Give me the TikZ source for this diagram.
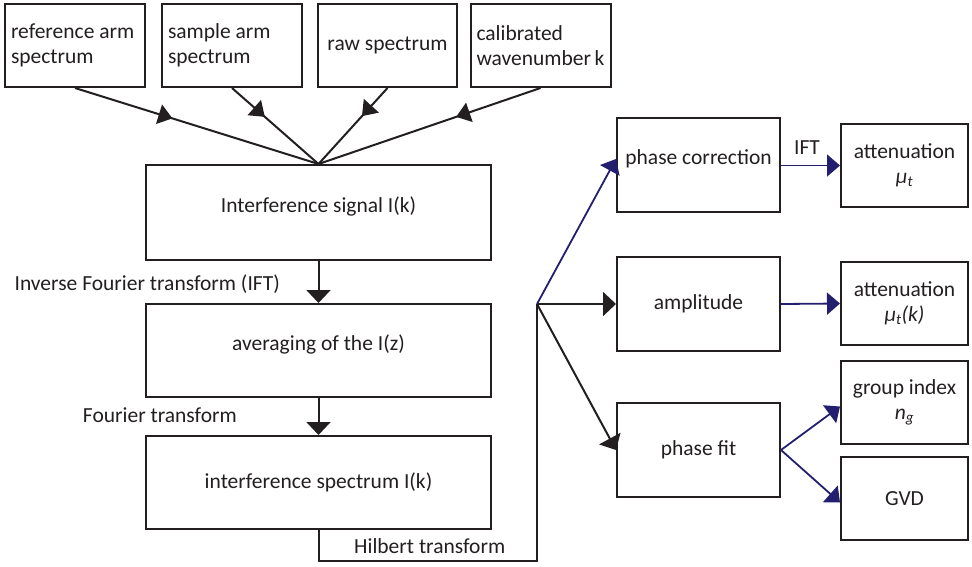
\documentclass[tikz,border=0pt]{standalone}
\usepackage{fontspec}
\setmainfont{Carlito}
\usetikzlibrary{arrows.meta,decorations.markings,calc}
\definecolor{navy}{RGB}{35,31,110}
\definecolor{ink}{RGB}{35,31,32}
\begin{document}
\begin{tikzpicture}[x=1pt,y=-1pt,
  font=\fontsize{21.5}{25}\selectfont,
  box/.style={draw=ink, line width=2pt, inner sep=0pt, align=center, text=ink},
  tbox/.style={box, text width=128pt, inner xsep=6pt, align=flush left},
  upshift/.style={text depth=#1},
  arr/.style={line width=2pt, color=ink, -{Triangle[length=13pt,width=24pt]}},
  barr/.style={line width=1.8pt, color=navy, -{Triangle[length=13pt,width=22pt]}},
  midarrow/.style={line width=2pt, color=ink, postaction={decorate},
    decoration={markings, mark=at position #1 with {\arrow{Triangle[length=14pt,width=20pt]}}}},
  lbl/.style={text=ink, inner sep=0pt}]
\useasboundingbox (0,0) rectangle (972,566);
% top boxes
\node[tbox, minimum width=140pt, minimum height=83pt] (b1) at (75,45.5) {reference arm\\spectrum};
\node[tbox, minimum width=140pt, minimum height=83pt] (b2) at (232,45.5) {sample arm\\spectrum};
\node[box, minimum width=139pt, minimum height=83pt] (b3) at (387.5,45.5) {raw spectrum};
\node[tbox, minimum width=139pt, minimum height=83pt] (b4) at (540.5,45.5) {calibrated\\wavenumber~k};
% main column
\node[box, upshift=15pt, minimum width=345pt, minimum height=95pt] (isg) at (318.5,212.5) {Interference signal I(k)};
\node[box, upshift=15pt, minimum width=345pt, minimum height=93pt] (avg) at (318.5,350.5) {averaging of the I(z)};
\node[box, minimum width=345pt, minimum height=93pt] (iss) at (318.5,482.5) {interference spectrum I(k)};
% right column
\node[box, upshift=16pt, minimum width=163pt, minimum height=94pt] (pc) at (698.5,165) {phase correction};
\node[box, minimum width=163pt, minimum height=94pt] (amp) at (698.5,304) {amplitude};
\node[box, minimum width=163pt, minimum height=94pt] (pf) at (698.5,450) {phase fit};
\node[box, minimum width=127pt, minimum height=83pt] (att1) at (904.5,165.5) {attenuation\\\textit{μ}\textsubscript{\textit{t}}};
\node[box, minimum width=127pt, minimum height=83pt] (att2) at (904.5,303.5) {attenuation\\\textit{μ}\textsubscript{\textit{t}}\textit{(k)}};
\node[box, minimum width=127pt, minimum height=83pt] (gi) at (904.5,402.5) {group index\\\textit{n}\textsubscript{\textit{g}}};
\node[box, minimum width=127pt, minimum height=83pt] (gvd) at (904.5,498.5) {GVD};
% labels
\node[lbl, anchor=base east] (lift) at (280,290) {Inverse Fourier transform (IFT)};
\node[lbl, anchor=base east] (lft) at (237,422) {Fourier transform};
\node[lbl, anchor=base west] (lht) at (354,553) {Hilbert transform};
\node[lbl, anchor=base] (lift2) at (807,154) {IFT};
% top converging arrows
\draw[midarrow=0.40] (b1.south) -- (isg.north);
\draw[midarrow=0.38] (b2.south) -- (isg.north);
\draw[midarrow=0.37] (b3.south) -- (isg.north);
\draw[midarrow=0.38] (b4.south) -- (isg.north);
% column arrows
\draw[arr] (isg.south) -- (avg.north);
\draw[arr] (avg.south) -- (iss.north);
% Hilbert path
\coordinate (hbl) at (iss.south |- 0,561);
\coordinate (hbr) at (537,561);
\coordinate (br) at (537,304);
\draw[line width=2pt, color=ink] (iss.south) -- (hbl) -- (hbr) -- (br);
% branches
\draw[barr] (br) -- ($(pc.west)+(0,-6)$);
\draw[arr] (br) -- (amp.west);
\draw[arr] (br) -- (pf.west);
\draw[barr] (pc.east |- att1.west) -- (att1.west);
\draw[barr] (amp.east) -- (att2.west);
\draw[barr] (pf.east) -- ($(gi.west)+(0,4)$);
\draw[barr] (pf.east) -- ($(gvd.west)+(0,4)$);
\end{tikzpicture}
\end{document}
